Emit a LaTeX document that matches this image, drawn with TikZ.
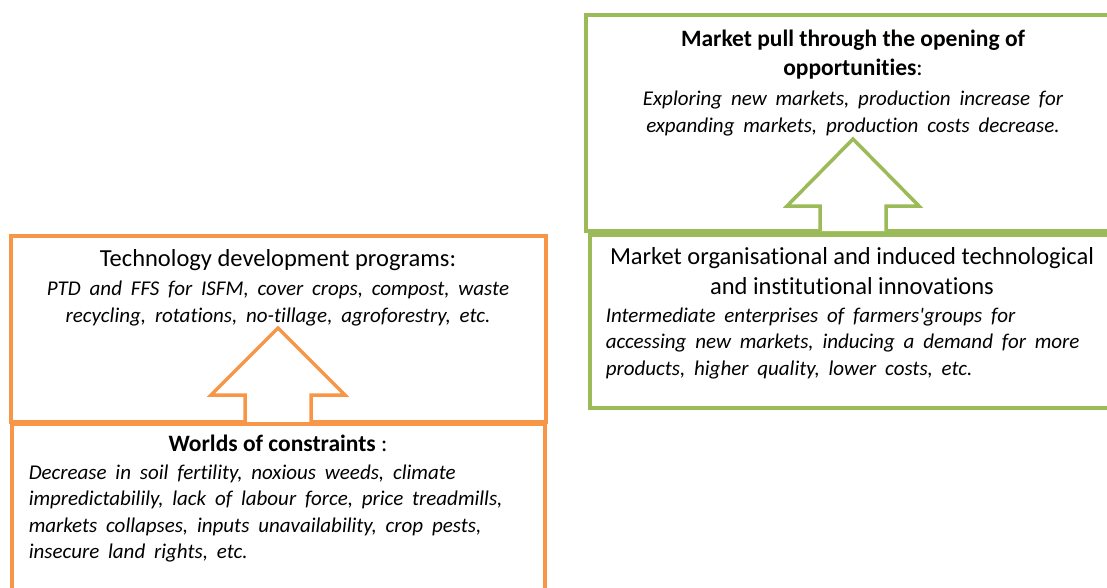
\documentclass[tikz,border=0pt]{standalone}
\usepackage{fontspec}
\setmainfont{Carlito}[Ligatures=NoCommon]
\usetikzlibrary{positioning}
\definecolor{orangeline}{RGB}{247,150,70}
\definecolor{greenline}{RGB}{155,187,89}
\newcommand\wordgap{\spaceskip=0.42em plus 0.1em\relax}

\begin{document}
\begin{tikzpicture}[x=1pt,y=-1pt,line width=3.5pt,
    obox/.style={draw=orangeline,rectangle,inner sep=0pt},
    gbox/.style={draw=greenline,rectangle,inner sep=0pt},
    headtext/.style={font=\fontsize{24.5}{29.5}\selectfont,align=center,inner sep=0pt},
    boldtext/.style={font=\fontsize{23.5}{29}\selectfont,align=center,inner sep=0pt},
    bodytext/.style={font=\fontsize{21}{26.5}\selectfont\itshape\wordgap,inner sep=0pt}]
  \useasboundingbox (0,0) rectangle (1107,588);

  % left side: constraints push technology
  \node[obox,minimum width=535pt,minimum height=186pt] (techbox) at (278.5,329) {};
  \draw[orangeline,fill=white] (245,422) -- (245,395) -- (211,395) -- (278,328)
    -- (345,395) -- (311,395) -- (311,422);
  \node[obox,minimum width=533pt,minimum height=190pt,anchor=north] (consbox) at (278.5,422) {};
  \node[headtext] (techtitle) at (278,260) {Technology development programs:};
  \node[bodytext,align=center,below=7pt of techtitle] (techbody)
    {PTD and FFS for ISFM, cover crops, compost, waste\\
     recycling, rotations, no-tillage, agroforestry, etc.};
  \node[boldtext] (constitle) at (278,443) {\textbf{Worlds of constraints} :};
  \node[bodytext,align=left,anchor=north west] (consbody) at (27,463)
    {Decrease in soil fertility, noxious weeds, climate\\
     impredictabilily, lack of labour force, price treadmills,\\
     markets collapses, inputs unavailability, crop pests,\\
     insecure land rights, etc.};

  % right side: market pull
  \node[gbox,minimum width=540pt,minimum height=216pt] (pullbox) at (856,123) {};
  \draw[greenline,fill=white] (820,231) -- (820,206) -- (787,206) -- (853,139)
    -- (919,206) -- (886,206) -- (886,231);
  \node[gbox,minimum width=540pt,minimum height=173pt,anchor=north west] (orgbox) at (588,233) {};
  \node[boldtext] (pulltitle) at (853,55)
    {\textbf{Market pull through the opening of}\\\textbf{opportunities}:};
  \node[bodytext,align=center,below=8pt of pulltitle] (pullbody)
    {Exploring new markets, production increase for\\
     expanding markets, production costs decrease.};
  \node[headtext] (orgtitle) at (852,271)
    {Market organisational and induced technological\\
     and institutional innovations};
  \node[bodytext,align=left,anchor=north west] (orgbody) at (604,306)
    {Intermediate enterprises of farmers\textquotesingle groups for\\
     accessing new markets, inducing a demand for more\\
     products, higher quality, lower costs, etc.};
\end{tikzpicture}
\end{document}
